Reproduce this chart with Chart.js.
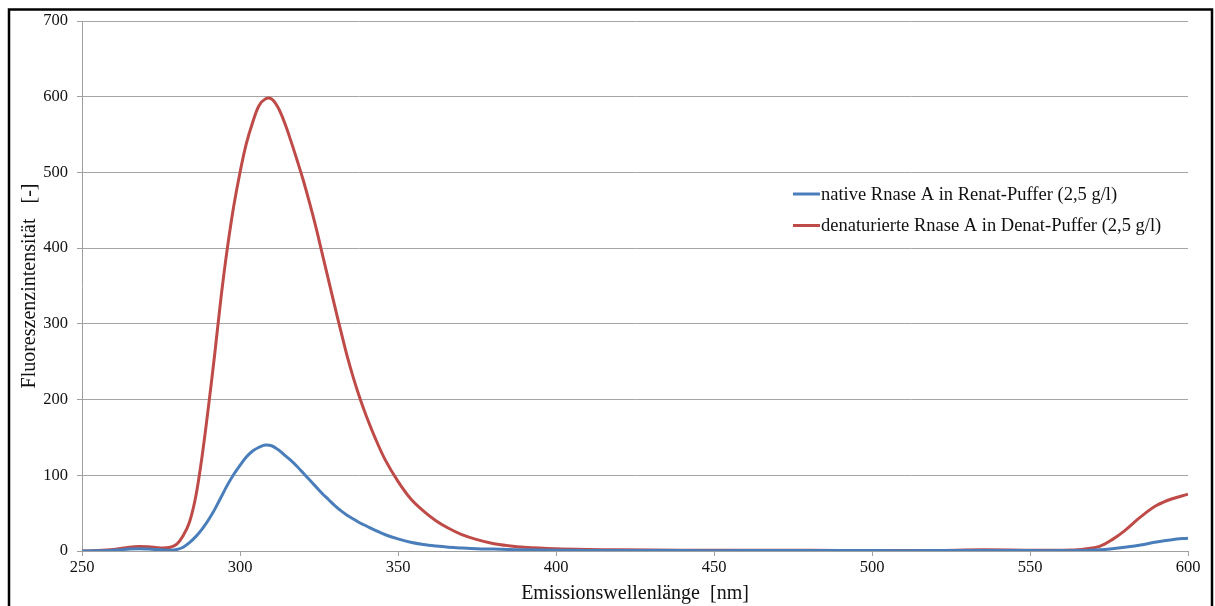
<!DOCTYPE html>
<html>
<head>
<meta charset="utf-8">
<script src="https://cdn.jsdelivr.net/npm/chart.js@4/dist/chart.umd.min.js"></script>
<style>
  html, body { margin: 0; padding: 0; background: #fff; }
  #wrap { width: 1215px; height: 606px; position: relative; }
</style>
</head>
<body>
<div id="wrap"><canvas id="canvas" width="1215" height="606"></canvas></div>
<script>
// emission wavelengths in nm
var wavelengths = [250, 255, 260, 265, 268, 271, 275, 278, 280, 282, 284, 286, 288, 290, 292, 294, 296, 298,
  300, 302, 304, 306, 308, 310, 312, 314, 316, 318, 320, 322, 324, 326, 328, 330, 332, 334, 336, 338, 340,
  343, 346, 350, 354, 358, 362, 366, 370, 375, 380, 385, 390, 400, 410, 420, 440, 460, 480, 500, 520, 535,
  550, 560, 565, 568, 572, 576, 580, 585, 590, 595, 600];

// native Rnase A, Renat buffer
var nativeVals = [0, 0.3, 1, 2.5, 3, 2.5, 1.5, 1, 2, 5, 11, 19, 29, 41, 55, 71, 87, 101,
  113, 124, 132, 137, 140, 139, 134, 127, 120, 112, 103, 94, 85, 76, 68, 60, 53, 47, 42, 37, 33,
  27, 21.5, 16, 11.5, 8.5, 6.5, 5, 4, 3, 2.5, 2, 1.5, 1, 0.8, 0.6, 0.5, 0.5, 0.5, 0.5, 0.5, 0.6,
  0.5, 0.5, 0.5, 0.8, 1.5, 3, 5, 8, 12, 15, 17];

// denatured Rnase A, Denat buffer
var denatVals = [0, 0.5, 2, 5, 6, 5.5, 4, 5, 9, 20, 38, 72, 125, 190, 260, 335, 400, 455,
  500, 538, 566, 588, 597, 597, 586, 567, 543, 517, 490, 460, 428, 393, 358, 323, 289, 256, 227, 201, 178,
  147, 120, 92, 69, 53, 40, 30, 22, 15, 10, 7, 5, 3, 2, 1.5, 1, 1, 1, 0.5, 0.8, 1.5,
  1, 1, 1.5, 3, 6, 15, 27, 45, 60, 69, 75];

var seriesLabels = ['native Rnase A in Renat-Puffer (2,5 g/l)', 'denaturierte Rnase A in Denat-Puffer (2,5 g/l)'];
var seriesColors = ['#4a7ebb', '#be4b48'];

function toPoints(vals) {
    return wavelengths.map(function (x, i) { return { x: x, y: vals[i] }; });
}

var serif = '"Liberation Serif", "Times New Roman", serif';

// outer frame of the figure
var framePlugin = {
    id: 'frame',
    afterDraw: function (chart) {
        var c = chart.ctx;
        c.save();
        c.strokeStyle = '#000';
        c.lineWidth = 2.5;
        c.beginPath();
        c.moveTo(9, 610);
        c.lineTo(9, 9.5);
        c.lineTo(1212, 9.5);
        c.lineTo(1212, 610);
        c.stroke();
        c.restore();
    }
};

// legend drawn inside the plot, right of the peaks
var legendPlugin = {
    id: 'innerLegend',
    afterDatasetsDraw: function (chart) {
        var c = chart.ctx;
        c.save();
        c.font = '18.5px ' + serif;
        c.textBaseline = 'middle';
        chart.data.datasets.forEach(function (ds, i) {
            var y = 194 + i * 31.5;
            c.strokeStyle = ds.borderColor;
            c.lineWidth = 3;
            c.beginPath();
            c.moveTo(793, y);
            c.lineTo(820, y);
            c.stroke();
            c.fillStyle = '#111';
            c.fillText(ds.label, 821, y + 1);
        });
        c.restore();
    }
};

var config = {
    type: 'line',
    data: {
        datasets: [{
            label: seriesLabels[0],
            data: toPoints(nativeVals),
            borderColor: seriesColors[0],
            borderWidth: 3,
            pointRadius: 0,
            tension: 0.35,
            fill: false
        }, {
            label: seriesLabels[1],
            data: toPoints(denatVals),
            borderColor: seriesColors[1],
            borderWidth: 3,
            pointRadius: 0,
            tension: 0.35,
            fill: false
        }]
    },
    options: {
        responsive: false,
        animation: false,
        layout: { padding: { top: 21, right: 27, left: 0, bottom: 0 } },
        plugins: {
            legend: { display: false },
            tooltip: { enabled: false }
        },
        scales: {
            x: {
                type: 'linear',
                min: 250,
                max: 600,
                afterFit: function (s) { s.height = 55; },
                ticks: { stepSize: 50, color: '#111', padding: 2, font: { family: serif, size: 16.5 } },
                grid: { drawOnChartArea: false, tickLength: 5, tickColor: '#a0a0a0' },
                border: { color: '#a0a0a0', width: 1 },
                title: {
                    display: true,
                    text: 'Emissionswellenlänge  [nm]',
                    color: '#111',
                    font: { family: serif, size: 20 },
                    padding: { top: 0, bottom: 0 }
                }
            },
            y: {
                min: 0,
                max: 700,
                afterFit: function (s) { s.width = 82; },
                ticks: { stepSize: 100, color: '#111', padding: 9, font: { family: serif, size: 16.5 } },
                grid: { color: '#a5a5a5', tickLength: 5, tickColor: '#a0a0a0' },
                border: { color: '#a0a0a0', width: 1 },
                title: {
                    display: true,
                    text: 'Fluoreszenzintensität   [-]',
                    color: '#111',
                    font: { family: serif, size: 20 },
                    padding: { top: 18, bottom: 0 }
                }
            }
        }
    },
    plugins: [framePlugin, legendPlugin]
};

var chart;
window.onload = function main() {
    var ctx = document.getElementById('canvas').getContext('2d');
    chart = new Chart(ctx, config);
};
</script>
</body>
</html>
